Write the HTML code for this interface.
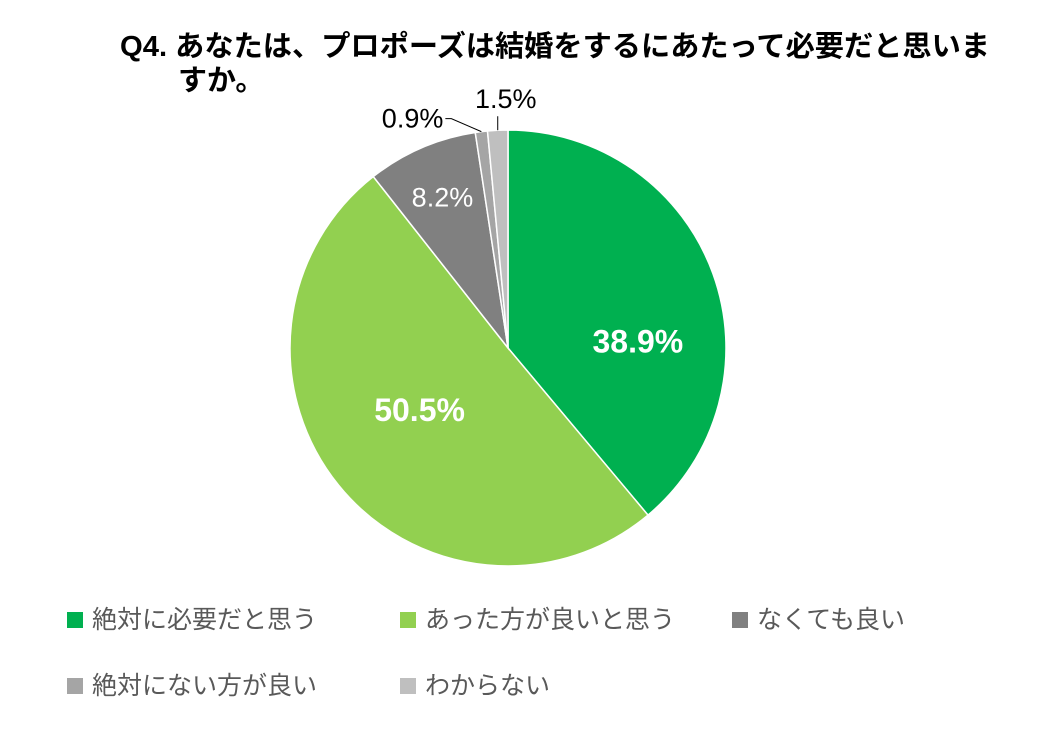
<!DOCTYPE html>
<html><head><meta charset="utf-8"><style>
body{margin:0;background:#fff;}
svg text{font-family:"Liberation Sans","Noto Sans CJK JP",sans-serif;}
</style></head><body>
<svg id="chart" width="1052" height="728" viewBox="0 0 1052 728">
<text x="120" y="56" font-size="29" font-weight="bold" fill="#000" textLength="870" lengthAdjust="spacingAndGlyphs">Q4. あなたは、プロポーズは結婚をするにあたって必要だと思いま</text>
<text x="178" y="90" font-size="29" font-weight="bold" fill="#000">すか。</text>
<g id="slices"></g>
<g id="labels"></g>
<g id="legend"></g>
</svg>
<script>
const categories=["絶対に必要だと思う","あった方が良いと思う","なくても良い","絶対にない方が良い","わからない"];
const values=[38.9,50.5,8.2,0.9,1.5];
const colors=["#00B050","#92D050","#808080","#A5A5A5","#BFBFBF"];
const NS="http://www.w3.org/2000/svg";
const cx=508,cy=348,r=218;
const total=values.reduce((a,b)=>a+b,0);
const sl=document.getElementById('slices'),lb=document.getElementById('labels'),lg=document.getElementById('legend');
function pt(a,rr){return [cx+rr*Math.sin(a),cy-rr*Math.cos(a)];}
let acc=0;
values.forEach((v,i)=>{
  const a0=acc/total*2*Math.PI;acc+=v;const a1=acc/total*2*Math.PI;
  const p0=pt(a0,r),p1=pt(a1,r);
  const large=(a1-a0)>Math.PI?1:0;
  const p=document.createElementNS(NS,'path');
  p.setAttribute('d',`M${cx},${cy}L${p0[0]},${p0[1]}A${r},${r} 0 ${large} 1 ${p1[0]},${p1[1]}Z`);
  p.setAttribute('fill',colors[i]);p.setAttribute('stroke','#fff');p.setAttribute('stroke-width','1.5');
  
  
  sl.appendChild(p);
  const am=(a0+a1)/2;
  const t=document.createElementNS(NS,'text');
  t.textContent=v.toFixed(1)+'%';
  
  
  if(v>20){
    const shift=(am<Math.PI?0.3:0.07);
    const rr=(am<Math.PI?130:108);
    const q=pt(am+shift,rr);
    t.setAttribute('x',q[0]);t.setAttribute('y',q[1]+11);t.setAttribute('text-anchor','middle');
    t.setAttribute('font-size','32');t.setAttribute('font-weight','bold');t.setAttribute('fill','#fff');
  }else if(v>5){
    const q=pt(am,r*0.757);
    t.setAttribute('x',q[0]);t.setAttribute('y',q[1]+10);t.setAttribute('text-anchor','middle');
    t.setAttribute('font-size','27');t.setAttribute('fill','#fff');
  }else{
    const e=pt(am,r);
    const ln=document.createElementNS(NS,'polyline');
    let tx,ty;
    if(i===3){const k=[e[0]-30,e[1]-13];ln.setAttribute('points',`${e[0]},${e[1]} ${k[0]},${k[1]} ${k[0]-6},${k[1]}`);tx=k[0]-8;ty=k[1]+9;t.setAttribute('text-anchor','end');}
    else{ln.setAttribute('points',`${e[0]},${e[1]} ${e[0]},${e[1]-14}`);tx=e[0]+8;ty=e[1]-22;t.setAttribute('text-anchor','middle');}
    ln.setAttribute('fill','none');ln.setAttribute('stroke','#000');ln.setAttribute('stroke-width','1');
    
    
    lb.appendChild(ln);
    t.setAttribute('x',tx);t.setAttribute('y',ty);t.setAttribute('font-size','27');t.setAttribute('fill','#000');
  }
  lb.appendChild(t);
});
const lx=[67,400,732],ly=[612,678];
categories.forEach((c,i)=>{
  const x=lx[i%3],y=ly[Math.floor(i/3)];
  const g=document.createElementNS(NS,'g');
  
  
  const s=document.createElementNS(NS,'rect');
  s.setAttribute('x',x);s.setAttribute('y',y);s.setAttribute('width',16);s.setAttribute('height',16);s.setAttribute('fill',colors[i]);
  
  
  const t=document.createElementNS(NS,'text');
  t.setAttribute('x',x+25);t.setAttribute('y',y+16);t.setAttribute('font-size','25');t.setAttribute('fill','#595959');
  t.textContent=c;
  
  
  g.appendChild(s);g.appendChild(t);lg.appendChild(g);
});
</script>
</body></html>
